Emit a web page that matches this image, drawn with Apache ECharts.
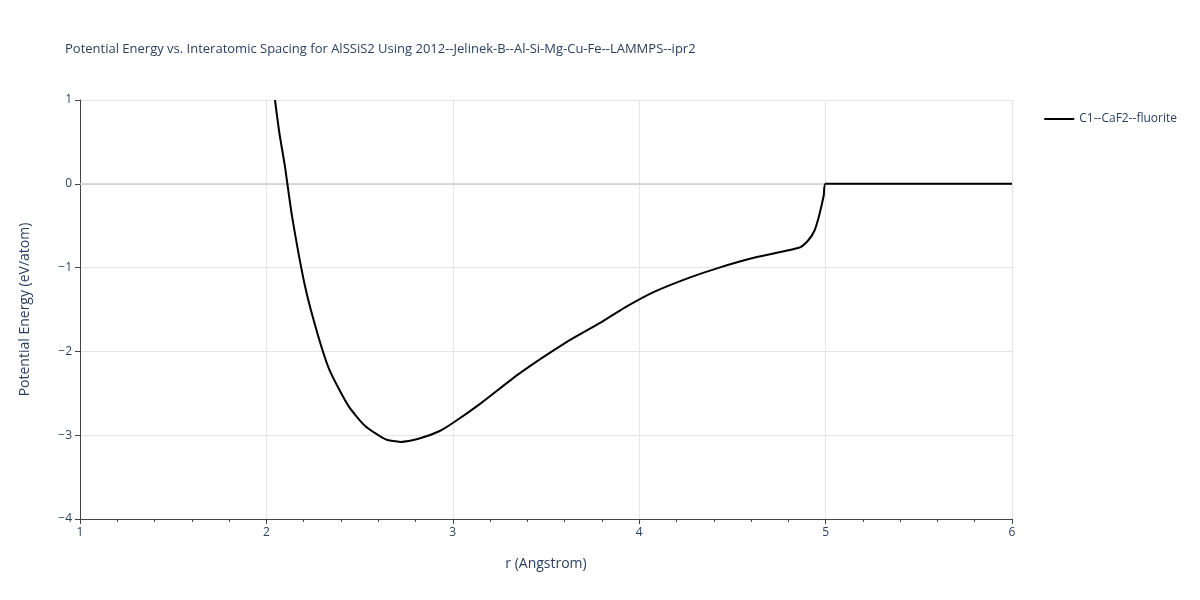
<!DOCTYPE html><html><head><meta charset="utf-8"><script src="https://cdn.jsdelivr.net/npm/echarts@6/dist/echarts.min.js"></script></head><body style="margin:0"><div id="c" style="width:1200px;height:600px"></div><script>
const rVals=[2.046,2.07,2.10,2.137,2.207,2.277,2.34,2.44,2.53,2.64,2.72,2.82,2.93,3.01,3.15,3.36,3.61,3.79,3.92,4.08,4.27,4.43,4.62,4.86,4.905,4.94,4.965,4.99,5.0,5.5,6.0];
const eVals=[1.0,0.6,0.2,-0.38,-1.22,-1.81,-2.23,-2.65,-2.89,-3.05,-3.08,-3.04,-2.95,-2.84,-2.62,-2.26,-1.89,-1.66,-1.48,-1.29,-1.12,-1.00,-0.88,-0.76,-0.68,-0.56,-0.38,-0.14,0,0,0];
const seriesName='C1--CaF2--fluorite';
const chart=echarts.init(document.getElementById('c'));
const f='"Open Sans", sans-serif', tc='#2a3f5f';
chart.setOption({
 title:{text:'Potential Energy vs. Interatomic Spacing for AlSSiS2 Using 2012--Jelinek-B--Al-Si-Mg-Cu-Fe--LAMMPS--ipr2',left:60,top:38,textStyle:{fontFamily:f,fontSize:13,fontWeight:'normal',color:tc}},
 legend:{right:18,top:108,orient:'vertical',itemWidth:30,icon:'path://M0,0H30V2H0Z',textStyle:{fontFamily:f,fontSize:12,color:tc},data:[seriesName]},
 grid:{left:80,right:188,top:100,bottom:81},
 xAxis:{type:'value',min:1,max:6,interval:1,name:'r (Angstrom)',nameLocation:'middle',nameGap:38,nameTextStyle:{fontFamily:f,fontSize:14,color:tc},
  axisLine:{onZero:false,lineStyle:{color:'#444'}},axisTick:{show:true,length:5,lineStyle:{color:'#444'}},minorTick:{show:true,splitNumber:5,length:3,lineStyle:{color:'#444'}},
  axisLabel:{fontFamily:f,color:tc,fontSize:12},splitLine:{lineStyle:{color:'#e5e5e5'}}},
 yAxis:{type:'value',min:-4,max:1,interval:1,name:'Potential Energy (eV/atom)',nameLocation:'middle',nameGap:48,nameTextStyle:{fontFamily:f,fontSize:14,color:tc},
  axisLine:{show:true,onZero:false,lineStyle:{color:'#444'}},axisTick:{show:true,length:5,lineStyle:{color:'#444'}},
  axisLabel:{fontFamily:f,color:tc,fontSize:12,formatter:v=>v<0?'\u2212'+(-v):''+v},splitLine:{lineStyle:{color:'#e5e5e5'}}},
 series:[
  {type:'line',data:[],z:1,silent:true,markLine:{silent:true,symbol:'none',label:{show:false},lineStyle:{color:'#ccc',type:'solid',width:1.5},data:[{yAxis:0}]}},
  {name:seriesName,type:'line',z:5,data:rVals.map((r,i)=>[r,eVals[i]]),showSymbol:false,smooth:0.2,lineStyle:{color:'#000',width:2},itemStyle:{color:'#000'}}]
});
</script></body></html>
